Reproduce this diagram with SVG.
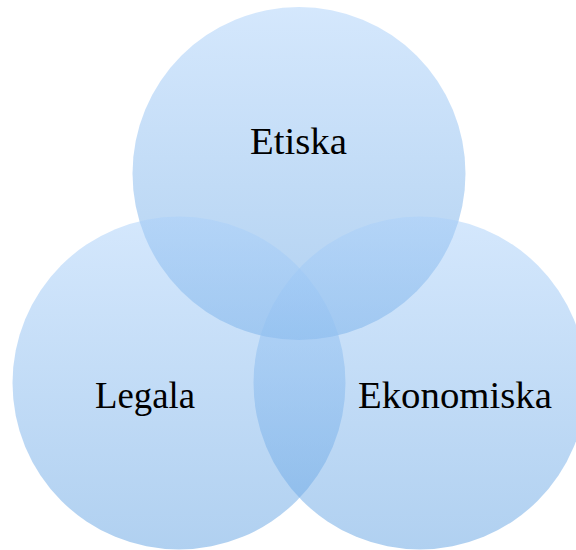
<svg xmlns="http://www.w3.org/2000/svg" width="576" height="550" viewBox="0 0 576 550">
  <style>
    .c { fill: url(#g); fill-opacity: 0.5; stroke: none; }
    .t { font-family: "Liberation Serif", "DejaVu Serif", serif; font-size: 37px; fill: #000000; text-anchor: middle; }
  </style>
  <defs>
    <linearGradient id="g" x1="0" y1="0" x2="0" y2="1">
      <stop offset="0" stop-color="#aad0fa"/>
      <stop offset="1" stop-color="#62a2e2"/>
    </linearGradient>
  </defs>
  <rect width="576" height="550" fill="#ffffff"/>
  <g id="node-etiska">
    <circle class="c" cx="299" cy="173.5" r="166.5"/>
  </g>
  <g id="node-legala">
    <circle class="c" cx="179" cy="383" r="166.5"/>
  </g>
  <g id="node-ekonomiska">
    <circle class="c" cx="420" cy="383" r="166.5"/>
  </g>
  <g id="labels">
    <text class="t" x="298.5" y="154" textLength="97" lengthAdjust="spacingAndGlyphs">Etiska</text>
    <text class="t" x="145" y="408" textLength="100" lengthAdjust="spacingAndGlyphs">Legala</text>
    <text class="t" x="455" y="408" textLength="194" lengthAdjust="spacingAndGlyphs">Ekonomiska</text>
  </g>
  <g id="connectors"/>
</svg>
